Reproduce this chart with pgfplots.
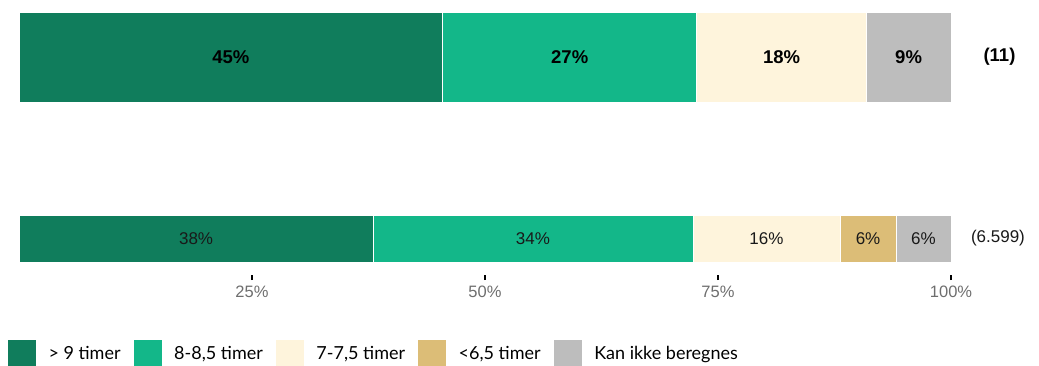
\documentclass[border=0pt]{standalone}
\usepackage{pgfplots}
\pgfplotsset{compat=1.18}
\usepackage{fontspec}
\setmainfont{Liberation Sans}
\newfontfamily\legfont{Lato}
\definecolor{c1}{HTML}{107D5C}
\definecolor{c2}{HTML}{13B789}
\definecolor{c3}{HTML}{FEF4DC}
\definecolor{c4}{HTML}{DCBD77}
\definecolor{c5}{HTML}{BDBDBD}
\definecolor{tickgray}{HTML}{6E6E6E}
\pgfplotsset{sqleg/.style={legend image code/.code={\fill[##1] (0pt,-14.5pt) rectangle (29pt,14.5pt);}}}
\begin{document}
\begin{tikzpicture}
\useasboundingbox (0pt,0pt) rectangle (1039pt,365pt);
% top bar (n = 11)
\begin{axis}[at={(19pt,263pt)}, anchor=south west, scale only axis,
  width=932pt, height=90pt, xmin=0, xmax=100, ymin=-0.5, ymax=0.5,
  hide axis, xbar stacked, bar width=90pt, bar shift=0pt]
\addplot[fill=c1, draw=white, line width=0.6pt] coordinates {(45.45,0)};
\addplot[fill=c2, draw=white, line width=0.6pt] coordinates {(27.27,0)};
\addplot[fill=c3, draw=white, line width=0.6pt] coordinates {(18.18,0)};
\addplot[fill=c5, draw=white, line width=0.6pt] coordinates {(9.09,0)};
\end{axis}
% bottom bar (n = 6.599)
\begin{axis}[at={(19pt,90pt)}, anchor=south west, scale only axis,
  width=932pt, height=73pt, xmin=0, xmax=100, ymin=-0.5, ymax=0.5,
  xbar stacked, bar width=47pt, bar shift=0pt,
  axis line style={draw=none}, ytick=\empty,
  xtick={25,50,75,100}, xticklabels={25\%,50\%,75\%,100\%},
  xtick pos=bottom, tick align=outside, major tick length=5pt,
  tick style={black, line width=1.6pt},
  xticklabel style={font=\fontsize{16.5}{18}\selectfont, text=tickgray, yshift=-2.5pt},
  every axis plot post/.append style={sqleg},
  legend columns=5,
  legend style={at={(axis description cs:-0.0129,-1.082)}, anchor=west,
    draw=none, fill=none, inner sep=0pt, outer sep=0pt,
    font=\legfont\fontsize{18}{20}\selectfont,
    nodes={inner sep=0pt}, cells={anchor=west},
    /tikz/every odd column/.append style={column sep=12pt},
    /tikz/every even column/.append style={column sep=12pt}}]
\addplot[fill=c1, draw=white, line width=0.6pt] coordinates {(38.0,0)};
\addplot[fill=c2, draw=white, line width=0.6pt] coordinates {(34.3,0)};
\addplot[fill=c3, draw=white, line width=0.6pt] coordinates {(15.8,0)};
\addplot[fill=c4, draw=white, line width=0.6pt] coordinates {(6.0,0)};
\addplot[fill=c5, draw=white, line width=0.6pt] coordinates {(5.9,0)};
\legend{> 9 timer, 8-8{,}5 timer, 7-7{,}5 timer, <6{,}5 timer, Kan ikke beregnes}
\end{axis}
% value labels
\begin{axis}[at={(19pt,90pt)}, anchor=south west, scale only axis,
  width=932pt, height=263pt, xmin=0, xmax=100, ymin=90, ymax=353,
  hide axis, clip=false]
\addplot[only marks, mark=none, nodes near coords, point meta=explicit symbolic,
  every node near coord/.append style={anchor=center, text=black,
    font=\bfseries\fontsize{18.5}{20}\selectfont}]
  coordinates {(22.73,308) [45\%] (59.09,308) [27\%] (81.82,308) [18\%]
               (95.45,308) [9\%] (105.2,308) [(11)]};
\addplot[only marks, mark=none, nodes near coords, point meta=explicit symbolic,
  every node near coord/.append style={anchor=center, text=black!90,
    font=\fontsize{17}{19}\selectfont}]
  coordinates {(19.0,126.5) [38\%] (55.15,126.5) [34\%] (80.2,126.5) [16\%]
               (91.1,126.5) [6\%] (97.05,126.5) [6\%] (105.04,126.5) [(6.599)]};
\end{axis}
\end{tikzpicture}
\end{document}
